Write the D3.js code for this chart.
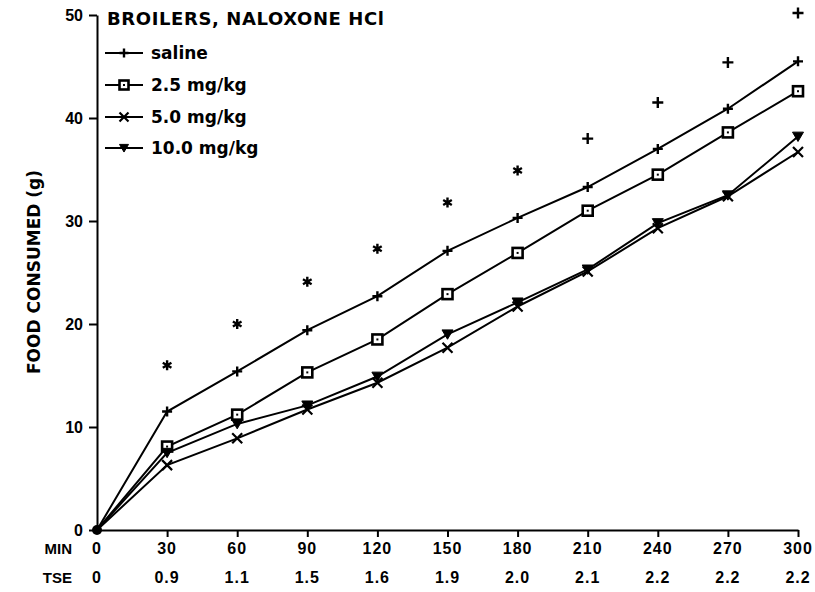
<!DOCTYPE html>
<html>
<head>
<meta charset="utf-8">
<script src="https://d3js.org/d3.v7.min.js"></script>
<style>
  body { margin: 0; background: #fff; }
  text { fill: #000; }
</style>
</head>
<body>
<div id="chart"></div>
<script>
// data
var minutes = [0, 30, 60, 90, 120, 150, 180, 210, 240, 270, 300]
var tseLabels = ["0", "0.9", "1.1", "1.5", "1.6", "1.9", "2.0", "2.1", "2.2", "2.2", "2.2"]
var yTicks = [0, 10, 20, 30, 40, 50]

var saline = [0, 11.5, 15.4, 19.4, 22.7, 27.1, 30.3, 33.3, 37.0, 40.9, 45.5]
var dose25 = [0, 8.1, 11.2, 15.3, 18.5, 22.9, 26.9, 31.0, 34.5, 38.6, 42.6]
var dose50 = [0, 6.3, 8.9, 11.7, 14.3, 17.7, 21.7, 25.1, 29.3, 32.4, 36.7]
var dose100 = [0, 7.5, 10.3, 12.1, 14.9, 19.0, 22.1, 25.3, 29.8, 32.5, 38.2]

// significance marks above the saline line
var starMinutes = [30, 60, 90, 120, 150, 180]
var starValues = [16.0, 20.0, 24.1, 27.3, 31.8, 34.9]
var plusMinutes = [210, 240, 270, 300]
var plusValues = [38.0, 41.5, 45.4, 50.2]

var seriesNames = ["saline", "2.5 mg/kg", "5.0 mg/kg", "10.0 mg/kg"]
var seriesValues = [saline, dose25, dose50, dose100]
var seriesSymbols = ["plus", "square", "cross", "triangle"]

var width = 815
    height = 592

var svg = d3.select("#chart")
    .append("svg")
    .attr("width", width)
    .attr("height", height)

var x = d3.scaleLinear().domain([0, 300]).range([97, 798])
var y = d3.scaleLinear().domain([0, 50]).range([530, 15])

var tickFont = "'Liberation Sans', Arial, sans-serif"
var labelFont = "'DejaVu Sans', sans-serif"

// X axis (ticks pointing down, labels drawn separately as MIN / TSE rows)
var xAxis = svg.append("g")
    .attr("transform", "translate(0," + y(0) + ")")
    .call(d3.axisBottom(x).tickValues(minutes).tickSize(7).tickSizeOuter(0).tickFormat(""))
xAxis.select(".domain").attr("stroke-width", 2)
xAxis.selectAll(".tick line").attr("stroke-width", 2)
xAxis.selectAll(".tick").filter(function (d) { return d === 0 }).remove()

// Y axis
var yAxis = svg.append("g")
    .attr("transform", "translate(" + x(0) + ",0)")
    .call(d3.axisLeft(y).tickValues(yTicks).tickSize(8).tickSizeOuter(0).tickPadding(6))
yAxis.select(".domain").attr("stroke-width", 2)
yAxis.selectAll(".tick line").attr("stroke-width", 2)
yAxis.selectAll(".tick text")
    .style("font-family", tickFont)
    .style("font-weight", "bold")
    .style("font-size", "16px")
    .attr("dy", "0.36em")

// MIN and TSE rows under the x axis
svg.append("text").attr("x", 72).attr("y", 554).attr("text-anchor", "end")
    .style("font-family", tickFont).style("font-weight", "bold").style("font-size", "15px")
    .text("MIN")
svg.append("text").attr("x", 72).attr("y", 583).attr("text-anchor", "end")
    .style("font-family", tickFont).style("font-weight", "bold").style("font-size", "15px")
    .text("TSE")
svg.selectAll("minLabels")
    .data(minutes)
    .enter()
    .append("text")
    .attr("x", function (d) { return x(d) })
    .attr("y", 554)
    .attr("text-anchor", "middle")
    .style("font-family", tickFont).style("font-weight", "bold").style("font-size", "16px")
    .style("letter-spacing", "1px")
    .text(function (d) { return d })
svg.selectAll("tseLabels")
    .data(tseLabels)
    .enter()
    .append("text")
    .attr("x", function (d, i) { return x(minutes[i]) })
    .attr("y", 583)
    .attr("text-anchor", "middle")
    .style("font-family", tickFont).style("font-weight", "bold").style("font-size", "16px")
    .style("letter-spacing", "1px")
    .text(function (d) { return d })

// Y axis title
svg.append("text")
    .attr("transform", "translate(40,272)rotate(-90)")
    .attr("text-anchor", "middle")
    .style("font-family", labelFont).style("font-weight", "bold").style("font-size", "17px")
    .text("FOOD CONSUMED (g)")

// chart title
svg.append("text")
    .attr("x", 107).attr("y", 25)
    .style("font-family", labelFont).style("font-weight", "bold").style("font-size", "18px")
    .style("letter-spacing", "0.6px")
    .text("BROILERS, NALOXONE HCl")

// marker drawing helper
function drawMarker(g, type, cx, cy, s) {
    if (type === "plus") {
        g.append("path").attr("d", "M" + (cx - s) + "," + cy + "H" + (cx + s) + "M" + cx + "," + (cy - s) + "V" + (cy + s))
            .attr("stroke", "#000").attr("stroke-width", 2.4).attr("fill", "none")
    } else if (type === "square") {
        g.append("rect").attr("x", cx - s).attr("y", cy - s).attr("width", 2 * s).attr("height", 2 * s)
            .attr("fill", "#fff").attr("stroke", "#000").attr("stroke-width", 2.6)
        g.append("rect").attr("x", cx - 1).attr("y", cy - 1).attr("width", 2).attr("height", 2).attr("fill", "#000")
    } else if (type === "cross") {
        g.append("path").attr("d", "M" + (cx - s) + "," + (cy - s) + "L" + (cx + s) + "," + (cy + s) + "M" + (cx + s) + "," + (cy - s) + "L" + (cx - s) + "," + (cy + s))
            .attr("stroke", "#000").attr("stroke-width", 2.2).attr("fill", "none")
    } else if (type === "triangle") {
        g.append("path").attr("d", "M" + (cx - s) + "," + (cy - s * 0.8) + "H" + (cx + s) + "L" + cx + "," + (cy + s * 0.9) + "Z")
            .attr("fill", "#000").attr("stroke", "#000").attr("stroke-width", 1)
    } else if (type === "star") {
        var p = ""
        for (var k = 0; k < 3; k++) {
            var a = Math.PI / 2 + k * Math.PI / 3
            p += "M" + (cx - s * Math.cos(a)) + "," + (cy - s * Math.sin(a)) + "L" + (cx + s * Math.cos(a)) + "," + (cy + s * Math.sin(a))
        }
        g.append("path").attr("d", p).attr("stroke", "#000").attr("stroke-width", 2.4).attr("fill", "none")
    }
}

var line = d3.line()
    .x(function (d, i) { return x(minutes[i]) })
    .y(function (d) { return y(d) })

// the four series
seriesValues.forEach(function (vals, si) {
    svg.append("path")
        .datum(vals)
        .attr("d", line)
        .attr("fill", "none")
        .attr("stroke", "#000")
        .attr("stroke-width", 2)
})
seriesValues.forEach(function (vals, si) {
    var g = svg.append("g")
    vals.forEach(function (v, i) {
        if (i === 0) return
        var size = seriesSymbols[si] === "triangle" ? 5.5 : 5
        drawMarker(g, seriesSymbols[si], x(minutes[i]), y(v), size)
    })
})
// blob at the origin where every line starts
svg.append("circle").attr("cx", x(0)).attr("cy", y(0)).attr("r", 5).attr("fill", "#000")

// significance symbols
var sig = svg.append("g")
starMinutes.forEach(function (m, i) { drawMarker(sig, "star", x(m), y(starValues[i]), 5) })
plusMinutes.forEach(function (m, i) { drawMarker(sig, "plus", x(m), y(plusValues[i]), 5.5) })

// legend
var legend = svg.append("g")
var legendY = [53, 85, 117, 148]
seriesNames.forEach(function (name, i) {
    var ly = legendY[i]
    legend.append("line").attr("x1", 105).attr("x2", 143).attr("y1", ly).attr("y2", ly)
        .attr("stroke", "#000").attr("stroke-width", 2)
    drawMarker(legend, seriesSymbols[i], 124, ly, 4.5)
    legend.append("text")
        .attr("x", 151).attr("y", ly).attr("dy", "0.35em")
        .style("font-family", labelFont).style("font-weight", "bold").style("font-size", "17px")
        .text(name)
})
</script>
</body>
</html>
